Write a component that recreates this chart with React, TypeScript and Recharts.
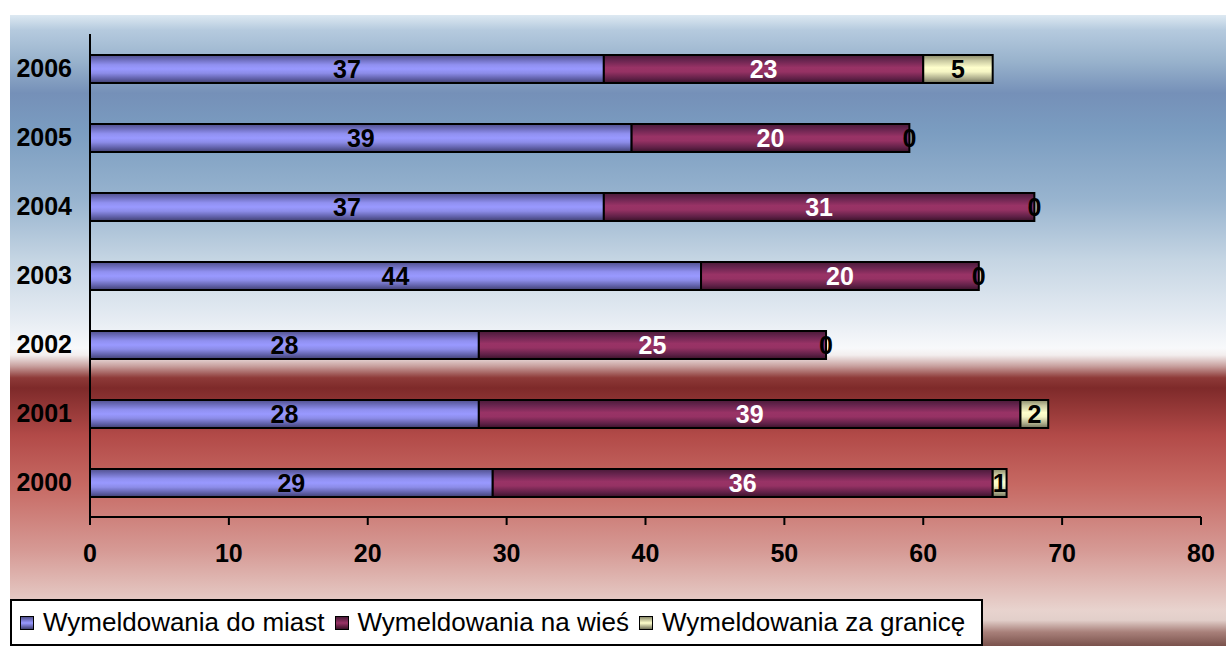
import React from "react";
import { BarChart, Bar, XAxis, YAxis, Legend, LabelList } from "recharts";

// lata od góry do dołu, tak jak na wykresie
const years = ["2006", "2005", "2004", "2003", "2002", "2001", "2000"];
const doMiast = [37, 39, 37, 44, 28, 28, 29];
const naWies = [23, 20, 31, 20, 25, 39, 36];
const zaGranice = [5, 0, 0, 0, 0, 2, 1];
const xTicks = [0, 10, 20, 30, 40, 50, 60, 70, 80];

const seriesNames = [
  "Wymeldowania do miast",
  "Wymeldowania na wieś",
  "Wymeldowania za granicę",
];

const data = years.map((year, i) => ({
  year,
  miasta: doMiast[i],
  wies: naWies[i],
  granica: zaGranice[i],
}));

const FONT = '"Liberation Sans", Arial, sans-serif';
const LABEL_SIZE = 25;

const iconGradients = [
  "linear-gradient(#50508c, #9999ff 50%, #404070)",
  "linear-gradient(#4a1a38, #993366 50%, #3a1228)",
  "linear-gradient(#8a8a6a, #ffffcc 50%, #707058)",
];

const bgGradient =
  "linear-gradient(to bottom, #dde9f2 0%, #b5cade 2.4%, #98b2cc 7.4%, #7590b8 12.4%, #7a9cc0 18.2%, #98b4cf 29.3%, #c5d5e3 38.8%, #e6ecf3 48.3%, #f8f9fb 52.8%, #f3eeee 53.9%, #c9a2a0 55.6%, #8e3a38 57.5%, #7e2a2a 59.1%, #b24a48 66.6%, #c66862 74.3%, #d69a95 84.9%, #e8d3ce 94.3%, #e2cfca 95.9%, #a8807a 97.8%, #7a524c 100%)";

// zero-width segments get no label from the bar itself, so the "0" is drawn at the end of the previous segment
function ZeroLabel(props: any) {
  const { x, y, width, height, value } = props;
  if (value !== 0) return null;
  return (
    <text
      x={Number(x) + Number(width)}
      y={Number(y) + Number(height) / 2}
      textAnchor="middle"
      dominantBaseline="central"
      fill="#000"
      fontSize={LABEL_SIZE}
      fontWeight="bold"
      fontFamily={FONT}
    >
      {value}
    </text>
  );
}

function renderLegend() {
  return (
    <div
      style={{
        boxSizing: "border-box",
        width: 973,
        height: 47,
        background: "#fff",
        border: "2px solid #000",
        display: "flex",
        alignItems: "center",
        paddingLeft: 8,
        fontFamily: FONT,
        fontSize: 26,
        color: "#000",
        whiteSpace: "nowrap",
      }}
    >
      {seriesNames.map((name, i) => (
        <span key={name} style={{ display: "flex", alignItems: "center", marginRight: 10 }}>
          <span
            style={{
              display: "inline-block",
              boxSizing: "border-box",
              width: 14,
              height: 14,
              border: "1px solid #000",
              background: iconGradients[i],
              marginRight: 9,
            }}
          />
          {name}
        </span>
      ))}
    </div>
  );
}

const tickStyle = { fill: "#000", fontSize: LABEL_SIZE, fontWeight: "bold", fontFamily: FONT };

export default function App() {
  return (
    <div style={{ position: "fixed", left: 0, top: 0, width: 1226, height: 646, background: "#fff" }}>
      <div
        style={{
          position: "absolute",
          left: 10,
          top: 15,
          width: 1216,
          height: 631,
          background: bgGradient,
        }}
      />
      <div style={{ position: "absolute", left: 0, top: 0 }}>
        <BarChart
          width={1226}
          height={646}
          data={data}
          layout="vertical"
          barSize={28}
          margin={{ top: 34, right: 25, left: 10, bottom: 22 }}
          style={{ fontFamily: FONT }}
        >
          <defs>
            <linearGradient id="gBlue" x1="0" y1="0" x2="0" y2="1">
              <stop offset="0" stopColor="#50508c" />
              <stop offset="0.15" stopColor="#6a6ab8" />
              <stop offset="0.35" stopColor="#9090f0" />
              <stop offset="0.5" stopColor="#9999ff" />
              <stop offset="0.65" stopColor="#8c8ce8" />
              <stop offset="0.85" stopColor="#6060a8" />
              <stop offset="1" stopColor="#404070" />
            </linearGradient>
            <linearGradient id="gMaroon" x1="0" y1="0" x2="0" y2="1">
              <stop offset="0" stopColor="#4a1a38" />
              <stop offset="0.2" stopColor="#6a2550" />
              <stop offset="0.45" stopColor="#993366" />
              <stop offset="0.6" stopColor="#963264" />
              <stop offset="0.85" stopColor="#5e2046" />
              <stop offset="1" stopColor="#3a1228" />
            </linearGradient>
            <linearGradient id="gCream" x1="0" y1="0" x2="0" y2="1">
              <stop offset="0" stopColor="#8a8a6a" />
              <stop offset="0.2" stopColor="#c8c8a0" />
              <stop offset="0.45" stopColor="#ffffcc" />
              <stop offset="0.6" stopColor="#f5f5c4" />
              <stop offset="0.85" stopColor="#a8a888" />
              <stop offset="1" stopColor="#707058" />
            </linearGradient>
          </defs>
          <XAxis
            type="number"
            domain={[0, 80]}
            ticks={xTicks}
            height={60}
            tickSize={8}
            tickMargin={19}
            axisLine={{ stroke: "#000", strokeWidth: 2 }}
            tickLine={{ stroke: "#000", strokeWidth: 2 }}
            tick={tickStyle}
          />
          <YAxis
            type="category"
            dataKey="year"
            width={80}
            tickLine={false}
            tickSize={0}
            tickMargin={18}
            axisLine={{ stroke: "#000", strokeWidth: 2 }}
            tick={tickStyle}
          />
          <Legend
            verticalAlign="bottom"
            content={renderLegend}
            wrapperStyle={{ left: 10, bottom: 0, width: 973 }}
          />
          <Bar dataKey="miasta" stackId="a" name={seriesNames[0]} fill="url(#gBlue)" stroke="#000" strokeWidth={2} isAnimationActive={false}>
            <LabelList dataKey="miasta" position="center" fill="#000" fontSize={LABEL_SIZE} fontWeight="bold" fontFamily={FONT} />
          </Bar>
          <Bar dataKey="wies" stackId="a" name={seriesNames[1]} fill="url(#gMaroon)" stroke="#000" strokeWidth={2} isAnimationActive={false}>
            <LabelList dataKey="wies" position="center" fill="#fff" fontSize={LABEL_SIZE} fontWeight="bold" fontFamily={FONT} />
            <LabelList dataKey="granica" content={ZeroLabel} />
          </Bar>
          <Bar dataKey="granica" stackId="a" name={seriesNames[2]} fill="url(#gCream)" stroke="#000" strokeWidth={2} isAnimationActive={false}>
            <LabelList dataKey="granica" position="center" fill="#000" fontSize={LABEL_SIZE} fontWeight="bold" fontFamily={FONT} />
          </Bar>
        </BarChart>
      </div>
    </div>
  );
}
